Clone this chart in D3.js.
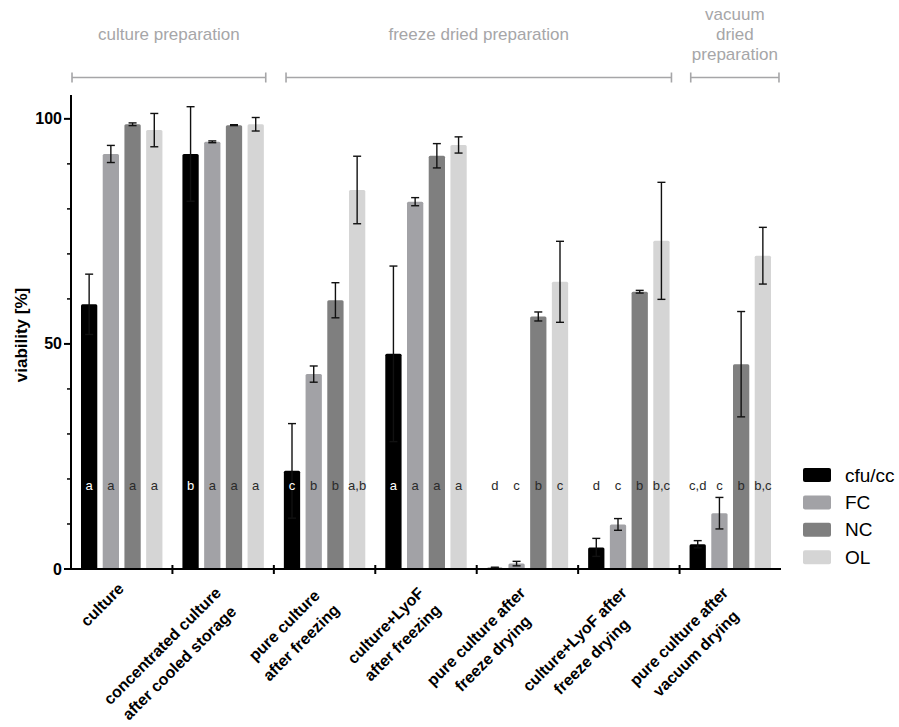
<!DOCTYPE html>
<html>
<head>
<meta charset="utf-8">
<script src="https://cdn.jsdelivr.net/npm/d3@7"></script>
<style>
  html, body { margin: 0; padding: 0; background: #fff; }
  svg { display: block; font-family: "Liberation Sans", Arial, Helvetica, sans-serif; }
</style>
</head>
<body>
<svg id="chart" width="899" height="727"></svg>
<script>
// Sample groups (x-axis), each label split into its display lines
const categories = [
  ["culture"],
  ["concentrated culture", "after cooled storage"],
  ["pure culture", "after freezing"],
  ["culture+LyoF", "after freezing"],
  ["pure culture after", "freeze drying"],
  ["culture+LyoF after", "freeze drying"],
  ["pure culture after", "vacuum drying"]
];

// Viability measures
const seriesNames = ["cfu/cc", "FC", "NC", "OL"];

// Mean viability [%] per measure, one value per group
const cfuMean = [58.8, 92.2, 21.8, 47.8, 0.3, 4.8, 5.5];
const fcMean  = [92.2, 94.9, 43.3, 81.6, 1.2, 9.9, 12.4];
const ncMean  = [98.8, 98.6, 59.7, 91.8, 56.1, 61.6, 45.5];
const olMean  = [97.5, 98.8, 84.2, 94.2, 63.8, 72.9, 69.6];

// Standard deviations
const cfuSd = [6.7, 10.5, 10.5, 19.5, 0.1, 2.0, 0.8];
const fcSd  = [1.9, 0.2, 1.8, 0.9, 0.5, 1.3, 3.5];
const ncSd  = [0.3, 0.1, 3.9, 2.7, 1.0, 0.3, 11.7];
const olSd  = [3.7, 1.5, 7.5, 1.8, 9.0, 13.0, 6.3];

// Significance letters
const cfuLetters = ["a", "b", "c", "a", "d", "d", "c,d"];
const fcLetters  = ["a", "a", "b", "a", "c", "c", "c"];
const ncLetters  = ["a", "a", "b", "a", "b", "b", "b"];
const olLetters  = ["a", "a", "a,b", "a", "c", "b,c", "b,c"];

// Y axis ticks
const yMajorTicks = [0, 50, 100];
const yMinorTicks = [10, 20, 30, 40, 60, 70, 80, 90];
const yMax = 105.3;

// Preparation brackets above the plot, spanning group positions
const sections = [
  { lines: ["culture preparation"], from: 0.01, to: 1.92 },
  { lines: ["freeze dried preparation"], from: 2.12, to: 5.92 },
  { lines: ["vacuum", "dried", "preparation"], from: 6.11, to: 6.98 }
];

const means = [cfuMean, fcMean, ncMean, olMean];
const sds = [cfuSd, fcSd, ncSd, olSd];
const letters = [cfuLetters, fcLetters, ncLetters, olLetters];
const colors = ["#000000", "#a2a2a6", "#7f7f7f", "#d5d5d5"];
const letterColors = ["#ffffff", "#2a2a2a", "#2a2a2a", "#2a2a2a"];

const rows = [];
categories.forEach((c, gi) => {
  seriesNames.forEach((s, si) => {
    rows.push({ g: gi, s: si, v: means[si][gi], sd: sds[si][gi], letter: letters[si][gi] });
  });
});

const svg = d3.select("#chart");
const x0 = 71, x1 = 781, yTop = 95, yBottom = 569;

const y = d3.scaleLinear().domain([0, yMax]).range([yBottom, yTop]);
const xGroup = d3.scaleBand().domain(d3.range(categories.length)).range([x0, x1]).padding(0);
const xSeries = d3.scaleBand().domain(d3.range(seriesNames.length))
  .range([10, xGroup.bandwidth() - 10]).paddingInner(0.25).paddingOuter(0);
const xGroupLinear = d3.scaleLinear().domain([0, categories.length]).range([x0, x1]);

// Bars
svg.append("g").selectAll("rect").data(rows).join("rect")
  .attr("x", d => xGroup(d.g) + xSeries(d.s))
  .attr("width", xSeries.bandwidth())
  .attr("y", d => y(d.v))
  .attr("height", d => y(0) - y(d.v))
  .attr("rx", 1.5)
  .attr("fill", d => colors[d.s]);

// Error bars (mean ± SD)
const capW = 8;
const eb = svg.append("g").attr("stroke", "#111").attr("stroke-width", 1.4).attr("fill", "none");
rows.forEach(d => {
  const cx = xGroup(d.g) + xSeries(d.s) + xSeries.bandwidth() / 2;
  const yHi = y(d.v + d.sd), yLo = y(Math.max(0, d.v - d.sd));
  eb.append("line").attr("x1", cx).attr("x2", cx).attr("y1", yHi).attr("y2", yLo);
  eb.append("line").attr("x1", cx - capW / 2).attr("x2", cx + capW / 2).attr("y1", yHi).attr("y2", yHi);
  eb.append("line").attr("x1", cx - capW / 2).attr("x2", cx + capW / 2).attr("y1", yLo).attr("y2", yLo);
});

// Significance letters
svg.append("g").selectAll("text").data(rows).join("text")
  .attr("x", d => xGroup(d.g) + xSeries(d.s) + xSeries.bandwidth() / 2)
  .attr("y", 485)
  .attr("text-anchor", "middle")
  .attr("dominant-baseline", "central")
  .attr("font-size", 13)
  .attr("fill", d => (y(d.v) < 478 ? letterColors[d.s] : "#2a2a2a"))
  .text(d => d.letter);

// Y axis
const yAxis = svg.append("g");
yAxis.append("line").attr("x1", x0).attr("x2", x0).attr("y1", yTop).attr("y2", yBottom)
  .attr("stroke", "#000").attr("stroke-width", 2);
yAxis.selectAll("line.major").data(yMajorTicks).join("line").attr("class", "major")
  .attr("x1", x0 - 7).attr("x2", x0).attr("y1", d => y(d)).attr("y2", d => y(d))
  .attr("stroke", "#000").attr("stroke-width", 2);
yAxis.selectAll("line.minor").data(yMinorTicks).join("line").attr("class", "minor")
  .attr("x1", x0 - 4).attr("x2", x0).attr("y1", d => y(d)).attr("y2", d => y(d))
  .attr("stroke", "#000").attr("stroke-width", 1.5);
yAxis.selectAll("text").data(yMajorTicks).join("text")
  .attr("x", x0 - 9).attr("y", d => y(d))
  .attr("text-anchor", "end").attr("dominant-baseline", "central")
  .attr("font-size", 16).attr("font-weight", "bold")
  .text(d => d);

svg.append("text")
  .attr("transform", "translate(21,335) rotate(-90)")
  .attr("text-anchor", "middle").attr("dominant-baseline", "central")
  .attr("font-size", 17).attr("font-weight", "bold")
  .text("viability [%]");

// X axis with crossing ticks at group boundaries
const xAxis = svg.append("g");
xAxis.append("line").attr("x1", x0 - 7).attr("x2", x1).attr("y1", yBottom).attr("y2", yBottom)
  .attr("stroke", "#000").attr("stroke-width", 2);
xAxis.selectAll("line.tick").data(d3.range(1, categories.length)).join("line").attr("class", "tick")
  .attr("x1", d => xGroup(d)).attr("x2", d => xGroup(d))
  .attr("y1", yBottom - 4).attr("y2", yBottom + 5)
  .attr("stroke", "#000").attr("stroke-width", 2);

// Rotated category labels, lines centred on each other
const lineH = 24;
categories.forEach((lines, gi) => {
  const cx = xGroup(gi) + xGroup.bandwidth() / 2;
  const g = svg.append("g").attr("transform", `translate(${cx},578) rotate(-45)`);
  const texts = lines.map((t, i) => g.append("text")
    .attr("y", 5 + i * lineH)
    .attr("text-anchor", "middle").attr("dominant-baseline", "central")
    .attr("font-size", 16).attr("font-weight", "bold")
    .text(t));
  const w = d3.max(texts, t => t.node().getComputedTextLength());
  const endX = lines.length > 1 ? -12 : -6;
  texts.forEach(t => t.attr("x", endX - w / 2));
});

// Section brackets and titles
const grey = "#a6a6a8";
sections.forEach(sec => {
  const xa = xGroupLinear(sec.from), xb = xGroupLinear(sec.to);
  const g = svg.append("g").attr("stroke", grey).attr("stroke-width", 1.6);
  g.append("line").attr("x1", xa).attr("x2", xb).attr("y1", 77.5).attr("y2", 77.5);
  g.append("line").attr("x1", xa).attr("x2", xa).attr("y1", 72.5).attr("y2", 82.5);
  g.append("line").attr("x1", xb).attr("x2", xb).attr("y1", 72.5).attr("y2", 82.5);
  const n = sec.lines.length;
  sec.lines.forEach((t, i) => {
    svg.append("text")
      .attr("x", (xa + xb) / 2)
      .attr("y", 40 + (i - (n - 1) / 2) * 20)
      .attr("text-anchor", "middle")
      .attr("font-size", 17).attr("fill", grey)
      .text(t);
  });
});

// Legend
const legend = svg.append("g");
seriesNames.forEach((name, i) => {
  const cy = 475 + i * 27.4;
  legend.append("rect").attr("x", 803).attr("y", cy - 7).attr("width", 28).attr("height", 14)
    .attr("rx", 2).attr("fill", colors[i]);
  legend.append("text").attr("x", 845).attr("y", cy)
    .attr("dominant-baseline", "central").attr("font-size", 19)
    .text(name);
});
</script>
</body>
</html>
